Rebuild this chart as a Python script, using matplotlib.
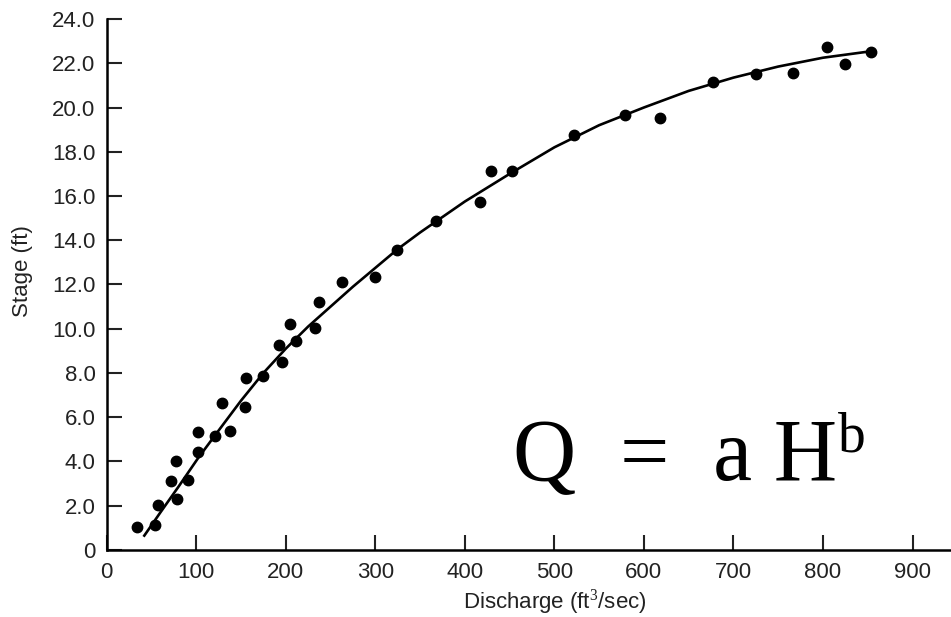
import matplotlib
matplotlib.use("Agg")
import matplotlib.pyplot as plt
import numpy as np

# measured discharge / stage pairs
discharge = [33.5, 54, 57.7, 72, 77.4, 78.5, 91.2, 101.7, 101.7, 121, 128.5, 137.8,
             154.5, 155.6, 175, 192.5, 195.5, 204.8, 211.5, 232.7, 237.6, 262.6,
             299.8, 324.5, 367.6, 417.1, 429, 453.2, 521.4, 579.1, 618.2, 677.1,
             725.1, 766, 804.5, 825, 854]
stage = [1.03, 1.14, 2.04, 3.1, 4.04, 2.31, 3.17, 4.42, 5.32, 5.17, 6.63, 5.4,
         6.48, 7.76, 7.88, 9.26, 8.5, 10.21, 9.46, 10.03, 11.23, 12.1,
         12.35, 13.55, 14.88, 15.75, 17.13, 17.13, 18.76, 19.66, 19.51, 21.15,
         21.5, 21.57, 22.75, 21.95, 22.5]

# rating curve as drawn
curve_q = [42, 60, 80, 102, 125, 150, 175, 200, 225, 250, 275, 300, 325, 350,
           375, 400, 450, 500, 550, 600, 650, 700, 750, 800, 855]
curve_h = [0.65, 1.7, 2.85, 4.15, 5.4, 6.75, 8.0, 9.1, 10.1, 11.0, 11.9, 12.75,
           13.6, 14.35, 15.05, 15.75, 17.0, 18.2, 19.2, 20.0, 20.75, 21.35,
           21.85, 22.25, 22.55]

x_ticks = list(range(0, 1000, 100))
y_ticks = [0, 2, 4, 6, 8, 10, 12, 14, 16, 18, 20, 22, 24]
y_ticklabels = ["0"] + ["%.1f" % v for v in y_ticks[1:]]

plt.rcParams['font.family'] = ['Liberation Sans', 'DejaVu Sans']
plt.rcParams['mathtext.fontset'] = 'custom'
plt.rcParams['mathtext.rm'] = 'Liberation Serif'

fig = plt.figure(figsize=(9.51, 6.17), dpi=100)
ax = fig.add_axes([0.1122, 0.1086, 0.8878, 0.8606])

ax.plot(curve_q, curve_h, color='black', linewidth=1.9, solid_joinstyle='round')
ax.plot(discharge, stage, 'o', color='black', markersize=7.5)

ax.set_xlim(0, 943)
ax.set_ylim(0, 24)
ax.set_xticks(x_ticks)
ax.set_yticks(y_ticks)
ax.set_yticklabels(y_ticklabels)

for side in ['top', 'right']:
    ax.spines[side].set_visible(False)
for side in ['left', 'bottom']:
    ax.spines[side].set_linewidth(1.8)

ax.tick_params(direction='in', length=11, width=1.5, labelsize=16, pad=8,
               colors='#222222')
ax.tick_params(axis='x', pad=9)

ax.set_xlabel('Discharge (ft$^3$/sec)', fontsize=16, color='#222222')
ax.set_ylabel('Stage (ft)', fontsize=16, color='#222222')
ax.xaxis.set_label_coords(0.531, -0.07)
ax.yaxis.set_label_coords(-0.087, 0.525)

# equation drawn as main text plus a smaller superscript
eq = ax.text(0.481, 0.132, 'Q  =  a H', transform=ax.transAxes,
             fontsize=63, family='Liberation Serif', va='baseline', ha='left')
ax.annotate('b', xy=(1, 1), xycoords=eq, xytext=(1, -24),
            textcoords='offset points', fontsize=40,
            family='Liberation Serif', va='baseline', ha='left')

fig.savefig('out.png', dpi=100)
